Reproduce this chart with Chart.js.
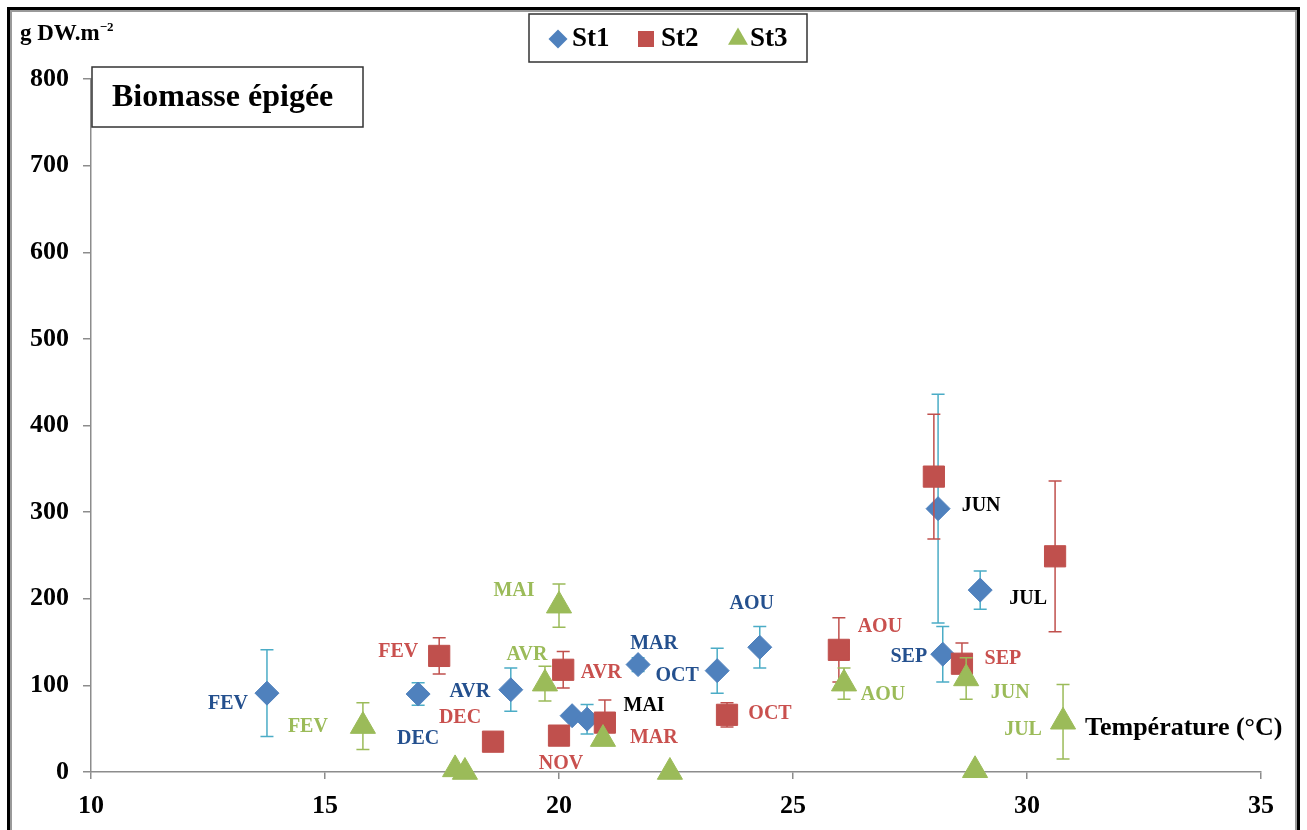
<!DOCTYPE html>
<html>
<head>
<meta charset="utf-8">
<title>Biomasse épigée</title>
<script src="https://cdn.jsdelivr.net/npm/chart.js@4/dist/chart.umd.min.js"></script>
<style>
  html, body { margin: 0; padding: 0; background: #fff; overflow: hidden; }
  #wrap { position: relative; width: 1307px; height: 830px; }
  #chart { position: absolute; left: 0; top: 0; }
  #frame {
    position: absolute; left: 7px; top: 7px; width: 1287px; height: 900px;
    border: 3px solid #000; box-shadow: inset 0 0 0 2px #9a9a9a; pointer-events: none;
  }
</style>
</head>
<body>
<div id="wrap">
  <canvas id="chart" width="1307" height="830"></canvas>
  <div id="frame"></div>
</div>
<script>
// Station 1
const st1Temp    = [13.76, 16.99, 18.97, 21.69, 23.38, 24.29, 20.28, 20.60, 28.10, 28.20, 29.00];
const st1Biomass = [91, 90, 95, 124, 117, 144, 65, 61, 304, 136, 210];
const st1Error   = [50, 13, 25, 8, 26, 24, 0, 17, 132, 32, 22];
const st1Months  = ['FEV', 'DEC', 'AVR', 'MAR', 'OCT', 'AOU', '', 'MAI', 'JUN', 'SEP', 'JUL'];

// Station 2
const st2Temp    = [17.44, 18.59, 20.00, 20.09, 20.98, 23.59, 25.98, 28.01, 28.61, 30.60];
const st2Biomass = [134, 35, 42, 118, 57, 66, 141, 341, 125, 249];
const st2Error   = [21, 0, 0, 21, 26, 14, 37, 72, 24, 87];
const st2Months  = ['FEV', 'DEC', 'NOV', 'AVR', 'MAR', 'OCT', 'AOU', '', 'SEP', ''];

// Station 3
const st3Temp    = [15.81, 17.78, 17.99, 19.70, 20.00, 20.94, 22.37, 26.09, 28.70, 28.89, 30.77];
const st3Biomass = [53, 3, 0, 102, 192, 38, 0, 102, 108, 2, 58];
const st3Error   = [27, 0, 0, 20, 25, 0, 0, 18, 24, 0, 43];
const st3Months  = ['FEV', '', '', 'AVR', 'MAI', '', '', 'AOU', 'JUN', '', 'JUL'];

// Axis ticks
const xTicks = [10, 15, 20, 25, 30, 35];
const yTicks = [0, 100, 200, 300, 400, 500, 600, 700, 800];

// Label placement (pixel offset of each month label from its marker)
const labelOffsets = [
  [[-39, 11], [0, 45], [-41, 2], [16, -21], [-40, 5], [-8, -43], [0, 0], [57, -13], [43, -3], [-34, 3], [48, 9]],
  [[-41, -4], [-33, -24], [2, 28], [38, 3], [49, 15], [43, -1], [41, -23], [0, 0], [41, -5], [0, 0]],
  [[-55, 1], [0, 0], [0, 0], [-18, -29], [-45, -15], [0, 0], [0, 0], [39, 11], [44, 14], [0, 0], [-40, 8]]
];
const labelColors = ['#24508e', '#c9504e', '#9bbb59'];
const darkLabels = { 0: ['MAI', 'JUN', 'JUL'] };

const errorArrays = [st1Error, st2Error, st3Error];
const errorColors = ['#4bacc6', '#c0504d', '#9bbb59'];

const SERIF = '"Liberation Serif", "Times New Roman", serif';

function points(xs, ys) { return xs.map((x, i) => ({ x: x, y: ys[i] })); }

// Vertical error bars with caps, drawn just before each series' markers
const errorBarPlugin = {
  id: 'errorBars',
  beforeDatasetDraw(chart, args) {
    const errs = errorArrays[args.index];
    if (!errs) return;
    const ys = chart.scales.y;
    const ctx = chart.ctx;
    const ds = chart.data.datasets[args.index];
    ctx.save();
    ctx.strokeStyle = errorColors[args.index];
    ctx.lineWidth = 1.5;
    args.meta.data.forEach((pt, i) => {
      const e = errs[i];
      if (!e) return;
      const v = ds.data[i].y;
      const top = ys.getPixelForValue(v + e);
      const bot = ys.getPixelForValue(Math.max(0, v - e));
      const cap = 6.5;
      ctx.beginPath();
      ctx.moveTo(pt.x, top); ctx.lineTo(pt.x, bot);
      ctx.moveTo(pt.x - cap, top); ctx.lineTo(pt.x + cap, top);
      ctx.moveTo(pt.x - cap, bot); ctx.lineTo(pt.x + cap, bot);
      ctx.stroke();
    });
    ctx.restore();
  }
};

// Month labels beside the markers
const monthLabelPlugin = {
  id: 'monthLabels',
  afterDatasetsDraw(chart) {
    const ctx = chart.ctx;
    const monthSets = [st1Months, st2Months, st3Months];
    ctx.save();
    ctx.font = 'bold 20px ' + SERIF;
    ctx.textAlign = 'center';
    ctx.textBaseline = 'middle';
    monthSets.forEach((months, d) => {
      const meta = chart.getDatasetMeta(d);
      months.forEach((m, i) => {
        if (!m) return;
        const pt = meta.data[i];
        const off = labelOffsets[d][i];
        const dark = darkLabels[d] && darkLabels[d].includes(m);
        ctx.fillStyle = dark ? '#000' : labelColors[d];
        ctx.fillText(m, pt.x + off[0], pt.y + off[1]);
      });
    });
    ctx.restore();
  }
};

function marker(ctx, style, x, y, r, color) {
  ctx.fillStyle = color;
  ctx.beginPath();
  if (style === 'rectRot') {
    ctx.moveTo(x - r, y); ctx.lineTo(x, y - r); ctx.lineTo(x + r, y); ctx.lineTo(x, y + r);
  } else if (style === 'rect') {
    const s = r * Math.SQRT1_2;
    ctx.rect(x - s, y - s, 2 * s, 2 * s);
  } else {
    ctx.moveTo(x, y - r);
    ctx.lineTo(x + r * Math.sin(2 * Math.PI / 3), y - r * Math.cos(2 * Math.PI / 3));
    ctx.lineTo(x + r * Math.sin(4 * Math.PI / 3), y - r * Math.cos(4 * Math.PI / 3));
  }
  ctx.closePath();
  ctx.fill();
}

// Legend box, title box, unit label and x-axis title
const decorPlugin = {
  id: 'decor',
  afterDraw(chart) {
    const ctx = chart.ctx;
    const area = chart.chartArea;
    ctx.save();

    // unit of the y axis, with a raised exponent
    ctx.fillStyle = '#000';
    ctx.font = 'bold 23px ' + SERIF;
    ctx.textAlign = 'left';
    ctx.textBaseline = 'alphabetic';
    const unit = 'g DW.m';
    ctx.fillText(unit, 20, 40);
    const uw = ctx.measureText(unit).width;
    ctx.font = 'bold 13px ' + SERIF;
    ctx.fillText('\u22122', 20 + uw, 31);

    // title box
    ctx.fillStyle = '#fff';
    ctx.fillRect(area.left + 1, 67, 271, 60);
    ctx.strokeStyle = '#333';
    ctx.lineWidth = 1.5;
    ctx.strokeRect(area.left + 1, 67, 271, 60);
    ctx.fillStyle = '#000';
    ctx.font = 'bold 32px ' + SERIF;
    ctx.textBaseline = 'middle';
    ctx.fillText('Biomasse épigée', area.left + 21, 98);

    // legend box
    ctx.fillStyle = '#fff';
    ctx.fillRect(529, 14, 278, 48);
    ctx.strokeStyle = '#333';
    ctx.strokeRect(529, 14, 278, 48);
    const items = [
      { style: 'rectRot', r: 9.5, mx: 558, tx: 572 },
      { style: 'rect', r: 11.3, mx: 646, tx: 661 },
      { style: 'triangle', r: 11.5, mx: 738, tx: 750 }
    ];
    ctx.font = 'bold 27px ' + SERIF;
    chart.data.datasets.forEach((ds, i) => {
      const it = items[i];
      marker(ctx, it.style, it.mx, 39, it.r, ds.backgroundColor);
      ctx.fillStyle = '#000';
      ctx.fillText(ds.label, it.tx, 39);
    });

    // x-axis title inside the plot
    ctx.font = 'bold 26px ' + SERIF;
    ctx.fillStyle = '#000';
    ctx.fillText('Température (°C)', area.right - 176, 728);
    ctx.restore();
  }
};

const tickFont = { family: SERIF, size: 26, weight: 'bold' };

new Chart(document.getElementById('chart'), {
  type: 'scatter',
  data: {
    datasets: [
      { label: 'St1', data: points(st1Temp, st1Biomass), pointStyle: 'rectRot', pointRadius: 12,
        backgroundColor: '#4f81bd', borderColor: '#4f81bd', borderWidth: 1, order: 3, clip: false },
      { label: 'St2', data: points(st2Temp, st2Biomass), pointStyle: 'rect', pointRadius: 15,
        backgroundColor: '#c0504d', borderColor: '#c0504d', borderWidth: 1, order: 2, clip: false },
      { label: 'St3', data: points(st3Temp, st3Biomass), pointStyle: 'triangle', pointRadius: 14.5,
        backgroundColor: '#9bbb59', borderColor: '#9bbb59', borderWidth: 1, order: 1, clip: false }
    ]
  },
  options: {
    responsive: false,
    animation: false,
    devicePixelRatio: 1,
    layout: { padding: { top: 79, right: 46, left: 0, bottom: 0 } },
    plugins: { legend: { display: false }, tooltip: { enabled: false } },
    scales: {
      x: {
        type: 'linear', min: xTicks[0], max: xTicks[xTicks.length - 1],
        afterBuildTicks(s) { s.ticks = xTicks.map(v => ({ value: v })); },
        ticks: { color: '#000', font: tickFont, padding: 12, maxRotation: 0 },
        grid: { drawOnChartArea: false, drawTicks: true, tickLength: 7, color: '#8c8c8c', lineWidth: 1.5 },
        border: { color: '#8c8c8c', width: 1.5 },
        afterFit(s) { s.height = 58; }
      },
      y: {
        type: 'linear', min: yTicks[0], max: yTicks[yTicks.length - 1],
        afterBuildTicks(s) { s.ticks = yTicks.map(v => ({ value: v })); },
        ticks: { color: '#000', font: tickFont, padding: 14 },
        grid: { drawOnChartArea: false, drawTicks: true, tickLength: 8, color: '#8c8c8c', lineWidth: 1.5 },
        border: { color: '#8c8c8c', width: 1.5 },
        afterFit(s) { s.width = 91; }
      }
    }
  },
  plugins: [errorBarPlugin, monthLabelPlugin, decorPlugin]
});
</script>
</body>
</html>
